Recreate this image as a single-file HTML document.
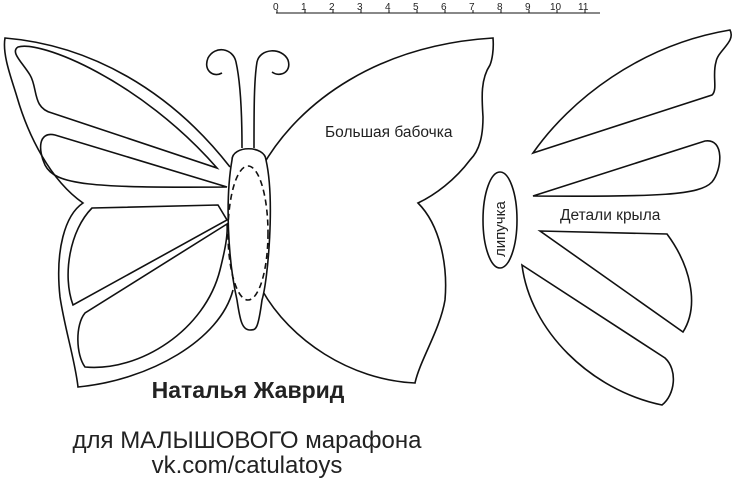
<!DOCTYPE html>
<html><head><meta charset="utf-8"><style>
body{margin:0;background:#fff;width:735px;height:481px;overflow:hidden}
svg{display:block}
text{font-family:"Liberation Sans",sans-serif;fill:#222}
</style></head><body>
<svg width="735" height="481" viewBox="0 0 735 481" fill="none" stroke="#111" stroke-width="1.6">
<!-- ruler -->
<g stroke-width="1">
<line x1="276" y1="13" x2="600" y2="13"/>
<g font-size="10" stroke="none" fill="#222">
<text x="273" y="10">0</text><text x="301" y="10">1</text><text x="329" y="10">2</text><text x="357" y="10">3</text><text x="385" y="10">4</text><text x="413" y="10">5</text><text x="441" y="10">6</text><text x="469" y="10">7</text><text x="497" y="10">8</text><text x="525" y="10">9</text><text x="550" y="10">10</text><text x="578" y="10">11</text>
</g>
<path d="M277,10v3M305,10v3M333,10v3M361,10v3M389,10v3M417,10v3M445,10v3M473,10v3M501,10v3M529,10v3M557,10v3M585,10v3"/>
</g>
<!-- left wing outer -->
<path d="M230,167 C170,90 90,45 5,38 C2,55 12,80 17,97 C28,135 50,180 83,203 C65,215 55,250 60,297 C65,330 75,360 78,387 C150,380 220,340 233,290"/>
<!-- right wing outer -->
<path d="M262,167 C300,100 380,45 493,38 C494,50 492,60 490,65 C480,80 482,100 483,117 C483,135 480,150 470,160 C455,180 435,195 418,203 C440,225 448,265 445,300 C440,330 420,360 415,383 C350,380 290,340 262,290"/>
<!-- body -->
<path d="M232,160 C232,145 265,145 266,160 C275,200 268,280 262,300 C258,330 256,330 250,330 C242,330 240,320 237,300 C228,260 225,200 232,160Z" fill="#fff"/>
<ellipse cx="248" cy="233" rx="20" ry="67" stroke-dasharray="6,4"/>
<!-- antennae -->
<path d="M242,148 C242,110 240,80 236,62 C233,48 215,45 208,58 C203,70 213,78 222,73"/>
<path d="M254,148 C254,110 254,80 257,62 C260,48 282,47 288,60 C292,72 280,78 272,72"/>
<!-- left cells -->
<path d="M18,47 C40,40 140,80 217,168 L52,113 C32,108 38,88 30,75 C22,62 10,52 18,47Z"/>
<path d="M227,187 L55,135 C38,131 38,150 45,165 C55,185 90,188 227,187Z"/>
<path d="M218,205 L92,208 C70,230 62,275 73,305 L227,220Z"/>
<path d="M227,224 L85,313 C75,325 76,355 85,367 C140,372 205,330 220,270 C225,250 228,235 227,224Z"/>
<!-- right pieces -->
<path d="M533,153 C570,100 640,45 730,30 C736,42 718,50 716,62 C712,75 718,90 712,95 Z"/>
<path d="M533,196 L705,141 C725,138 722,170 712,182 C700,195 660,197 533,196Z"/>
<path d="M540,231 L667,234 C690,265 700,305 683,332Z"/>
<path d="M522,265 L665,358 C678,370 675,395 662,405 C590,390 530,330 522,265Z"/>
<ellipse cx="500" cy="220" rx="17" ry="48"/>
<g stroke="none">
<text x="325" y="137" font-size="15.5">Большая бабочка</text>
<text x="560" y="220" font-size="15.5">Детали крыла</text>
<text transform="translate(505,257) rotate(-90)" font-size="15">липучка</text>
<text x="248" y="398" font-size="23" font-weight="bold" text-anchor="middle">Наталья Жаврид</text>
<text x="247" y="448" font-size="24" text-anchor="middle">для МАЛЫШОВОГО марафона</text>
<text x="247" y="473" font-size="24" text-anchor="middle">vk.com/catulatoys</text>
</g>
</svg>
</body></html>
